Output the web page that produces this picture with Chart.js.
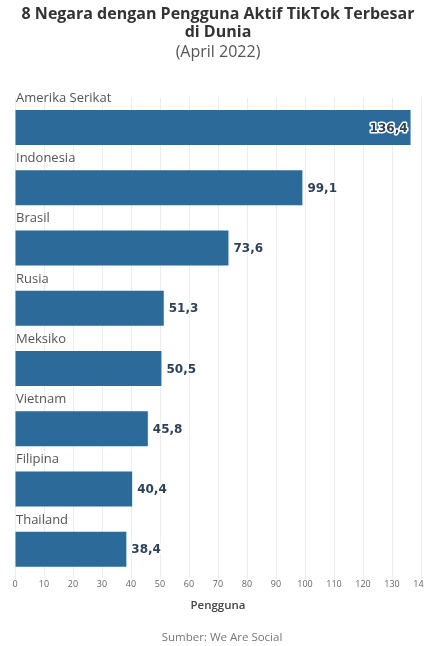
<!DOCTYPE html>
<html>
<head>
<meta charset="utf-8">
<script src="https://cdn.jsdelivr.net/npm/chart.js@4"></script>
<style>
  html, body { margin: 0; padding: 0; background: #ffffff; overflow: hidden; }
  #wrap { width: 440px; height: 646px; position: relative; }
</style>
</head>
<body>
<div id="wrap"><canvas id="c"></canvas></div>
<script>
const categories = ["Amerika Serikat", "Indonesia", "Brasil", "Rusia", "Meksiko", "Vietnam", "Filipina", "Thailand"];
const users = [136.4, 99.1, 73.6, 51.3, 50.5, 45.8, 40.4, 38.4];
const titleLines = ["8 Negara dengan Pengguna Aktif TikTok Terbesar", "di Dunia"];
const subtitleText = "(April 2022)";
const axisTitle = "Pengguna";
const sourceText = "Sumber: We Are Social";

const FONT = "'Open Sans', 'Noto Sans', sans-serif";
const VFONT = "'DejaVu Sans', sans-serif";
const BAR = "#2b6a99";

const labelPlugin = {
  id: "labels",
  afterDatasetsDraw(chart) {
    const ctx = chart.ctx;
    const meta = chart.getDatasetMeta(0);
    const area = chart.chartArea;
    ctx.save();
    meta.data.forEach((bar, i) => {
      const half = bar.height / 2;
      // category label above bar
      ctx.font = "13px " + FONT;
      ctx.fillStyle = "#555555";
      ctx.textAlign = "left";
      ctx.textBaseline = "middle";
      ctx.fillText(categories[i], area.left + 1, bar.y - half - 12);
      // value label
      const txt = users[i].toFixed(1).replace(".", ",");
      ctx.font = "bold 12px " + VFONT;
      ctx.lineJoin = "round";
      let x, align;
      if (i === 0) { x = bar.x - 3; align = "right"; } else { x = bar.x + 5; align = "left"; }
      ctx.textAlign = align;
      ctx.strokeStyle = "#ffffff";
      ctx.lineWidth = 3;
      ctx.strokeText(txt, x, bar.y + 1);
      ctx.fillStyle = "#2d4258";
      ctx.fillText(txt, x, bar.y + 1);
    });
    // source note
    ctx.font = "11.5px " + FONT;
    ctx.fillStyle = "#777777";
    ctx.textAlign = "center";
    ctx.textBaseline = "middle";
    ctx.fillText(sourceText, (area.left + area.right) / 2 + 4, chart.height - 8);
    ctx.restore();
  }
};

new Chart(document.getElementById("c"), {
  type: "bar",
  data: {
    labels: categories,
    datasets: [{
      data: users,
      backgroundColor: BAR,
      borderWidth: 0,
      barPercentage: 0.58,
      categoryPercentage: 1.0
    }]
  },
  options: {
    indexAxis: "y",
    responsive: true,
    maintainAspectRatio: false,
    animation: false,
    layout: { padding: { left: 15, right: 19, top: 0, bottom: 33 } },
    plugins: {
      legend: { display: false },
      tooltip: { enabled: false },
      title: {
        display: true,
        text: titleLines,
        color: "#333333",
        font: { family: FONT, size: 16, weight: "bold", lineHeight: 1.15 },
        padding: { top: 5, bottom: 2 }
      },
      subtitle: {
        display: true,
        text: subtitleText,
        color: "#555555",
        font: { family: FONT, size: 16, lineHeight: 1.1 },
        padding: { top: 0, bottom: 36 }
      }
    },
    scales: {
      x: {
        min: 0,
        max: 140,
        ticks: { stepSize: 10, color: "#666666", font: { family: FONT, size: 9 }, padding: 0, maxRotation: 0, autoSkip: false },
        grid: { color: "#ededed", drawTicks: false },
        border: { display: false },
        title: { display: true, text: axisTitle, color: "#444444", font: { family: FONT, size: 11.5, weight: "600" }, padding: { top: 9, bottom: 0 } }
      },
      y: {
        display: false
      }
    }
  },
  plugins: [labelPlugin]
});
</script>
</body>
</html>
